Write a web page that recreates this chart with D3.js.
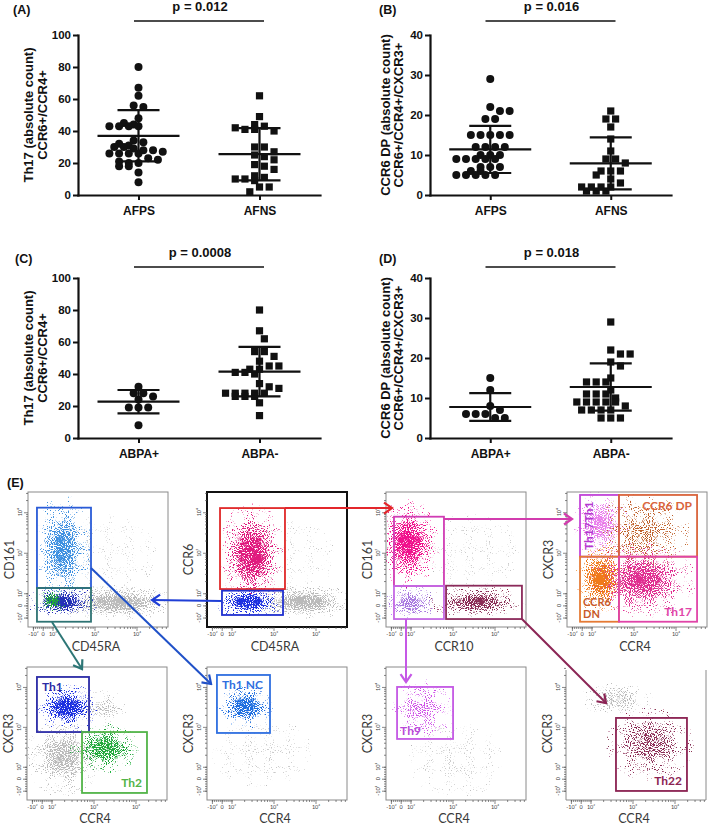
<!DOCTYPE html>
<html>
<head>
<meta charset="utf-8">
<script src="https://cdn.jsdelivr.net/npm/d3@7"></script>
<style>
  body { margin: 0; background: #fff; }
  svg { display: block; }
</style>
</head>
<body>
<svg id="fig" width="709" height="826"></svg>
<script>
// ---------- scatter panels (A-D): values ----------
const groupsAF = ["AFPS", "AFNS"];
const groupsABPA = ["ABPA+", "ABPA-"];

const th17AFPS = [80, 67, 62, 56, 55, 48, 45, 43, 43, 43, 43, 44, 34, 33, 32, 31, 30, 30, 29, 28, 28, 27, 26, 26, 26, 26, 23, 22, 21, 20, 20, 18, 18, 14, 8];
const th17AFNS = [62, 49, 44, 43, 42, 41, 41, 40, 30, 30, 27, 25, 24, 22, 19, 18, 16, 12, 11, 10, 10, 9, 5, 5, 2];
const dpAFPS = [29, 22, 21, 21, 19, 19, 15, 15, 15, 15, 15, 12, 12, 12, 12, 10, 10, 10, 9, 9, 9, 9, 9, 7, 7, 7, 6, 6, 5, 5, 5, 5, 5];
const dpAFNS = [21, 19, 19, 17, 14, 11, 9, 9, 8, 6, 6, 6, 5, 4, 3, 2, 2, 2, 2, 1, 1, 1];
const th17ABPApos = [32, 28, 28, 26, 24, 19, 19, 19, 8];
const th17ABPAneg = [80, 67, 62, 54, 54, 51, 48, 45, 45, 43, 43, 41, 41, 40, 34, 32, 31, 28, 28, 28, 28, 28, 26, 26, 26, 22, 14];
const dpABPApos = [15, 12, 8, 7, 6, 6, 6, 5, 5];
const dpABPAneg = [29, 22, 21, 21, 19, 18, 15, 14, 14, 14, 12, 11, 11, 11, 10, 9, 9, 9, 9, 9, 8, 7, 7, 7, 7, 5, 5, 5];

// mean and SD bars as drawn
const meanTh17AF = [37, 25.5], sdTh17AF = [16, 16.3];
const meanDpAF = [11.4, 7.9], sdDpAF = [5.9, 6.5];
const meanTh17ABPA = [22.7, 41.5], sdTh17ABPA = [7.3, 15.5];
const meanDpABPA = [7.75, 12.75], sdDpABPA = [3.45, 5.9];

const pValues = ["p = 0.012", "p = 0.016", "p = 0.0008", "p = 0.018"];
const ticksTh17 = [0, 20, 40, 60, 80, 100];
const ticksDP = [0, 10, 20, 30, 40];
const titleTh17 = ["Th17 (absolute count)", "CCR6+/CCR4+"];
const titleDP = ["CCR6 DP (absolute count)", "CCR6+/CCR4+/CXCR3+"];

// ---------- flow panel (E): gates and populations in display channels (0-1000) ----------
const flowXLabels = ["CD45RA", "CD45RA", "CCR10", "CCR4", "CCR4", "CCR4", "CCR4", "CCR4"];
const flowYLabels = ["CD161", "CCR6", "CD161", "CXCR3", "CXCR3", "CXCR3", "CXCR3", "CXCR3"];
const decadeLabels = ["-10²", "0", "10²", "10³", "10⁴"];
const xDecadeCh = [35, 105, 175, 475, 775];
const yDecadeCh = [70, 160, 250, 550, 850];

const gateNames = ["CD161+", "CD161-", "CCR6+", "CCR6-", "CD161+CCR10-", "CD161-CCR10-", "CD161-CCR10+",
                   "Th17Th1", "CCR6 DP", "CCR6 DN", "Th17", "Th1", "Th2", "Th1 NC", "Th9", "Th22"];
const gatePlot = [0, 0, 1, 1, 2, 2, 2, 3, 3, 3, 3, 4, 4, 5, 6, 7];
const gateX = [[64, 450], [64, 450], [93, 557], [107, 543], [57, 414], [57, 414], [429, 971],
               [93, 371], [371, 929], [93, 371], [371, 929], [71, 443], [393, 857], [71, 450], [79, 479], [357, 864]];
const gateY = [[289, 884], [39, 289], [281, 881], [89, 269], [304, 817], [59, 304], [59, 306],
               [521, 978], [521, 978], [39, 521], [39, 521], [511, 925], [53, 511], [504, 940], [459, 850], [68, 617]];

const popPlot    = [0, 0, 0, 0, 0,   1, 1, 1, 1,   2, 2, 2, 2,   3, 3, 3, 3,   4, 4, 4, 4,   5, 5,   6, 6,   7, 7];
const popX       = [640, 560, 250, 250, 175,   690, 620, 320, 300,   620, 160, 175, 650,   240, 540, 245, 540,   260, 540, 290, 560,   390, 275,   500, 260,   360, 600];
const popY       = [180, 540, 580, 185, 195,   185, 520, 540, 185,   560, 620, 180, 185,   760, 700, 360, 350,   330, 690, 695, 390,   360, 700,   300, 680,   760, 420];
const popSpreadX = [330, 380, 150, 190, 80,    280, 320, 170, 190,   360, 160, 140, 270,   150, 270, 140, 280,   200, 140, 170, 190,   330, 150,   320, 170,   200, 240];
const popSpreadY = [95, 320, 300, 85, 60,      90, 300, 280, 80,     320, 240, 95, 85,     190, 230, 200, 210,   230, 110, 130, 140,   240, 120,   270, 180,   100, 210];
const popDensity = [0.95, 0.11, 0.85, 1, 1,    1, 0.1, 1, 1,         0.1, 1, 0.8, 0.85,    0.8, 0.5, 1, 0.9,     0.75, 0.45, 1, 0.85,  0.2, 0.95, 0.18, 0.5,  0.55, 0.62];
const popKind    = ["other", "faint", "lightblue", "navy", "green",  "other", "faint", "magenta", "blue",
                    "faint", "hotpink", "lavender", "maroon",  "orchid", "brown", "orange", "pink",
                    "other", "other", "blue", "green",  "faint", "skyblue",  "faint", "violet",  "other", "maroon"];

// arrows: [plot, channel x, channel y] -> [plot, channel x, channel y]
const arrowFrom = [[1, 557, 881], [1, 107, 193], [2, 414, 800], [0, 171, 37], [0, 450, 437], [2, 143, 59], [2, 971, 59]];
const arrowTo   = [[2, 43, 881],  [0, 886, 200], [3, 36, 800],  [4, 393, 985], [5, 29, 872], [6, 143, 887], [7, 286, 729]];
const arrowKind = ["red", "blue", "magenta", "teal", "blue2", "violet", "maroon"];

// gate labels: [gate index, lines, placement]
const gateLabels = [[7, ["Th17Th1"], "v"], [8, ["CCR6 DP"], "tr"], [9, ["CCR6", "DN"], "bl"], [10, ["Th17"], "br"],
                    [11, ["Th1"], "tl"], [12, ["Th2"], "br"], [13, ["Th1 NC"], "tl"], [14, ["Th9"], "bl"], [15, ["Th22"], "br"]];

// ---------- styles ----------
const FONT = "'Liberation Sans', Arial, sans-serif";
const FLOWFONT = "Lato, 'Open Sans', sans-serif";
const popColor = {
  other: "#bababa", faint: "#cdcdcd", lightblue: "#3d8fe0", navy: "#2430b8", green: "#1fa83a", magenta: "#e01a7e",
  blue: "#1c30e0", hotpink: "#f0108c", lavender: "#a878e0", maroon: "#8a2d55", violet: "#d050e8", orchid: "#ea80ec",
  brown: "#c0602a", orange: "#f07a1a", pink: "#e02f90", skyblue: "#1f6fe0"
};
const gateColor = {
  "CD161+": "#2a5bd7", "CD161-": "#2e7373", "CCR6+": "#e02828", "CCR6-": "#2030d0",
  "CD161+CCR10-": "#d03cb4", "CD161-CCR10-": "#c468e4", "CD161-CCR10+": "#8b2a5a",
  "Th17Th1": "#c244d8", "CCR6 DP": "#d9643c", "CCR6 DN": "#e57a34", "Th17": "#e044a8",
  "Th1": "#2b2ba6", "Th2": "#52b448", "Th1 NC": "#2f6fe0", "Th9": "#c458e4", "Th22": "#8b2252"
};
const labelColor = { "Th17Th1": "#b438d0", "CCR6 DN": "#c85a2a", "Th9": "#b848d8" };
const arrowColor = { red: "#e3262b", blue: "#1f3ed6", magenta: "#d23cae", teal: "#2d7676",
                     blue2: "#2051c8", violet: "#c558e6", maroon: "#8b2555" };

const svg = d3.select("#fig");
const defs = svg.append("defs");

// ---------- scatter panels ----------
const panels = [
  { tag: "(A)", tagX: 13, tagY: 14, groups: groupsAF, series: [th17AFPS, th17AFNS], mean: meanTh17AF, sd: sdTh17AF,
    ticks: ticksTh17, title: titleTh17, p: pValues[0], x0: 78, x1: 320, top: 35, bottom: 195, bracketY: 21, titleDx: [-50, -36] },
  { tag: "(B)", tagX: 379, tagY: 14, groups: groupsAF, series: [dpAFPS, dpAFNS], mean: meanDpAF, sd: sdDpAF,
    ticks: ticksDP, title: titleDP, p: pValues[1], x0: 430, x1: 671, top: 35, bottom: 195, bracketY: 21, titleDx: [-45, -32] },
  { tag: "(C)", tagX: 15, tagY: 263, groups: groupsABPA, series: [th17ABPApos, th17ABPAneg], mean: meanTh17ABPA, sd: sdTh17ABPA,
    ticks: ticksTh17, title: titleTh17, p: pValues[2], x0: 78, x1: 320, top: 278, bottom: 438, bracketY: 267, titleDx: [-50, -36] },
  { tag: "(D)", tagX: 379, tagY: 263, groups: groupsABPA, series: [dpABPApos, dpABPAneg], mean: meanDpABPA, sd: sdDpABPA,
    ticks: ticksDP, title: titleDP, p: pValues[3], x0: 430, x1: 671, top: 278, bottom: 438, bracketY: 267, titleDx: [-45, -32] }
];

// GraphPad-like column scatter: rows of equal value are centred, near rows are nudged
function swarm(values, y, cx, step, size) {
  const pts = values.map(v => ({ v: v, py: y(v) })).sort((a, b) => a.py - b.py);
  const rows = [];
  pts.forEach(p => {
    const last = rows[rows.length - 1];
    if (last && Math.abs(p.py - last[0].py) < 2.5) last.push(p); else rows.push([p]);
  });
  const placed = [];
  const shifts = [0, step / 2, -step / 2, step, -step, 1.5 * step, -1.5 * step];
  rows.forEach(row => {
    const n = row.length;
    for (let s = 0; s < shifts.length; s++) {
      const xs = row.map((p, i) => cx + (i - (n - 1) / 2) * step + shifts[s]);
      const ok = xs.every((x, i) => placed.every(q => (q.x - x) ** 2 + (q.py - row[i].py) ** 2 >= size * size));
      if (ok || s === shifts.length - 1) {
        row.forEach((p, i) => { p.x = xs[i]; placed.push(p); });
        break;
      }
    }
  });
  return placed;
}

panels.forEach(P => {
  const y = d3.scaleLinear().domain([0, d3.max(P.ticks)]).range([P.bottom, P.top]);
  const x = d3.scalePoint().domain(P.groups).range([P.x0, P.x1]).padding(0.5);
  const g = svg.append("g");

  const ya = g.append("g").attr("transform", `translate(${P.x0},0)`)
    .call(d3.axisLeft(y).tickValues(P.ticks).tickSize(5).tickSizeOuter(0).tickPadding(2));
  const xa = g.append("g").attr("transform", `translate(0,${P.bottom})`)
    .call(d3.axisBottom(x).tickSize(5).tickSizeOuter(0).tickPadding(6));
  [ya, xa].forEach(a => {
    a.select(".domain").attr("stroke", "#111").attr("stroke-width", 2.2).attr("stroke-linecap", "square");
    a.selectAll(".tick line").attr("stroke", "#111").attr("stroke-width", 2);
    a.selectAll("text").attr("fill", "#111").style("font", `bold 11.5px ${FONT}`);
  });
  xa.selectAll("text").style("font", `bold 12px ${FONT}`);

  // axis title (two rotated lines)
  P.title.forEach((t, i) => {
    g.append("text")
      .attr("transform", `translate(${P.x0 + P.titleDx[i]},${(P.top + P.bottom) / 2}) rotate(-90)`)
      .attr("text-anchor", "middle").attr("dominant-baseline", "central")
      .attr("fill", "#111").style("font", `bold 13px ${FONT}`).text(t);
  });

  // points
  P.series.forEach((vals, gi) => {
    const cx = x(P.groups[gi]);
    const pts = swarm(vals, y, cx, 9.7, 8);
    if (gi === 0) {
      g.selectAll(null).data(pts).enter().append("circle")
        .attr("cx", d => d.x).attr("cy", d => d.py).attr("r", 4).attr("fill", "#111");
    } else {
      g.selectAll(null).data(pts).enter().append("rect")
        .attr("x", d => d.x - 3.6).attr("y", d => d.py - 3.6).attr("width", 7.2).attr("height", 7.2).attr("fill", "#111");
    }
    // mean and SD
    const m = P.mean[gi], s = P.sd[gi];
    const bar = g.append("g").attr("stroke", "#111").attr("stroke-width", 2.2);
    bar.append("line").attr("x1", cx - 41).attr("x2", cx + 41).attr("y1", y(m)).attr("y2", y(m));
    bar.append("line").attr("x1", cx - 21).attr("x2", cx + 21).attr("y1", y(m + s)).attr("y2", y(m + s));
    bar.append("line").attr("x1", cx - 21).attr("x2", cx + 21).attr("y1", y(m - s)).attr("y2", y(m - s));
    bar.append("line").attr("x1", cx).attr("x2", cx).attr("y1", y(m - s)).attr("y2", y(m + s));
  });

  // significance bracket
  const mid = (x(P.groups[0]) + x(P.groups[1])) / 2;
  g.append("line").attr("x1", mid - 65).attr("x2", mid + 65).attr("y1", P.bracketY).attr("y2", P.bracketY)
    .attr("stroke", "#111").attr("stroke-width", 1.6);
  g.append("text").attr("x", mid + 1).attr("y", P.bracketY - 10).attr("text-anchor", "middle")
    .attr("fill", "#111").style("font", `bold 13px ${FONT}`).text(P.p);

  g.append("text").attr("x", P.tagX).attr("y", P.tagY).attr("fill", "#111")
    .style("font", `bold 12.5px ${FONT}`).text(P.tag);
});

svg.append("text").attr("x", 7).attr("y", 487).attr("fill", "#111")
  .style("font", `bold 12.5px ${FONT}`).text("(E)");

// ---------- flow cytometry plots ----------
const flowX0 = [28, 207, 386, 567, 27, 207, 386, 566];
const FW = 140;
const flowTop = i => (i < 4 ? 492 : 667);
const flowH = i => (i < 4 ? 135 : 133);
const fxs = flowX0.map((x0, i) => d3.scaleLinear().domain([0, 1000]).range([x0, x0 + FW]));
const fys = flowX0.map((x0, i) => d3.scaleLinear().domain([0, 1000]).range([flowTop(i) + flowH(i), flowTop(i)]));

function minorTicks(ch) {
  const out = [];
  const lin = (ch[2] - ch[0]) / 10;
  for (let k = 0; k <= 10; k++) out.push(ch[0] + k * lin);
  const gap = ch[3] - ch[2];
  for (let d = 0; d < 3; d++) {
    for (let m = 2; m <= 9; m++) {
      const c = ch[2] + d * gap + Math.log10(m) * gap;
      if (c < 1000) out.push(c);
    }
  }
  return out;
}

flowX0.forEach((x0, i) => {
  const fx = fxs[i], fy = fys[i];
  const top = flowTop(i), h = flowH(i);
  const g = svg.append("g");

  const clip = defs.append("clipPath").attr("id", "clip" + i);
  clip.append("rect").attr("x", x0).attr("y", top).attr("width", FW).attr("height", h);

  // event clouds: a soft density shape turned into speckles by a noise threshold
  const cloud = g.append("g").attr("clip-path", `url(#clip${i})`);
  popPlot.forEach((p, k) => {
    if (p !== i) return;
    const rx = popSpreadX[k] * FW / 1000 * 0.75;
    const ry = popSpreadY[k] * h / 1000 * 0.75;
    const f = defs.append("filter").attr("id", "pop" + k)
      .attr("x", "-100%").attr("y", "-100%").attr("width", "300%").attr("height", "300%")
      .attr("color-interpolation-filters", "sRGB");
    f.append("feGaussianBlur").attr("in", "SourceGraphic")
      .attr("stdDeviation", `${(rx * 0.5).toFixed(2)} ${(ry * 0.5).toFixed(2)}`).attr("result", "b");
    f.append("feComponentTransfer").attr("in", "b").attr("result", "solid")
      .append("feFuncA").attr("type", "discrete").attr("tableValues", "0 1 1 1 1 1 1 1 1 1 1 1 1 1 1 1 1 1 1 1 1 1 1 1 1 1 1 1 1 1 1 1 1 1 1 1 1 1 1 1");
    f.append("feTurbulence").attr("type", "fractalNoise").attr("baseFrequency", "0.95")
      .attr("numOctaves", 1).attr("seed", k * 7 + 3).attr("result", "n");
    f.append("feColorMatrix").attr("in", "n").attr("type", "matrix")
      .attr("values", "0 0 0 0 0  0 0 0 0 0  0 0 0 0 0  1 0 0 0 0").attr("result", "na");
    f.append("feComposite").attr("in", "b").attr("in2", "na").attr("operator", "arithmetic")
      .attr("k1", 0).attr("k2", 5).attr("k3", 12).attr("k4", -8.2).attr("result", "m");
    f.append("feComposite").attr("in", "solid").attr("in2", "m").attr("operator", "in");
    cloud.append("ellipse")
      .attr("cx", fx(popX[k])).attr("cy", fy(popY[k])).attr("rx", rx).attr("ry", ry)
      .attr("fill", popColor[popKind[k]]).attr("fill-opacity", popDensity[k])
      .attr("filter", `url(#pop${k})`);
  });

  // frame
  const frame = g.append("g").attr("fill", "none");
  if (i === 7) {
    frame.append("path").attr("d", `M${x0},${top + 3}V${top + h}H${x0 + FW}V${top + 3}`)
      .attr("stroke", "#8a8a8a").attr("stroke-width", 1);
  } else {
    frame.append("rect").attr("x", x0).attr("y", top).attr("width", FW).attr("height", h)
      .attr("stroke", i === 1 ? "#111" : "#8a8a8a").attr("stroke-width", i === 1 ? 2 : 1);
  }

  // axes with decade ticks
  const bx = g.append("g").attr("transform", `translate(0,${top + h})`);
  bx.call(d3.axisBottom(fx).tickValues(minorTicks(xDecadeCh)).tickSize(2).tickFormat(""));
  bx.call(g2 => g2.select(".domain").remove());
  const bxM = g.append("g").attr("transform", `translate(0,${top + h})`);
  bxM.call(d3.axisBottom(fx).tickValues(xDecadeCh).tickSize(4).tickPadding(1).tickFormat((d, j) => decadeLabels[j]));
  bxM.call(g2 => g2.select(".domain").remove());
  const ly = g.append("g").attr("transform", `translate(${x0},0)`);
  ly.call(d3.axisLeft(fy).tickValues(minorTicks(yDecadeCh)).tickSize(2).tickFormat(""));
  ly.call(g2 => g2.select(".domain").remove());
  const lyM = g.append("g").attr("transform", `translate(${x0},0)`);
  lyM.call(d3.axisLeft(fy).tickValues(yDecadeCh).tickSize(4).tickFormat(""));
  lyM.call(g2 => g2.select(".domain").remove());
  [bx, bxM, ly, lyM].forEach(a => a.selectAll(".tick line").attr("stroke", "#555").attr("stroke-width", 0.7));
  bxM.selectAll("text").attr("fill", "#444").style("font", `5.5px ${FLOWFONT}`);
  yDecadeCh.forEach((c, j) => {
    g.append("text").attr("transform", `translate(${x0 - 6},${fy(c)}) rotate(-90)`)
      .attr("text-anchor", "middle").attr("fill", "#444").style("font", `5.5px ${FLOWFONT}`).text(decadeLabels[j]);
  });

  // axis names
  g.append("text").attr("x", x0 + FW / 2 - 2).attr("y", top + h + (i < 4 ? 24 : 23))
    .attr("text-anchor", "middle").attr("fill", "#3a3a3a").style("font", `12.5px ${FLOWFONT}`).text(flowXLabels[i]);
  g.append("text").attr("transform", `translate(${x0 - 19},${top + h / 2}) rotate(-90)`)
    .attr("text-anchor", "middle").attr("dominant-baseline", "central")
    .attr("fill", "#3a3a3a").style("font", `12.5px ${FLOWFONT}`).text(flowYLabels[i]);
});

// gates
gateNames.forEach((name, k) => {
  const fx = fxs[gatePlot[k]], fy = fys[gatePlot[k]];
  svg.append("rect")
    .attr("x", fx(gateX[k][0])).attr("y", fy(gateY[k][1]))
    .attr("width", fx(gateX[k][1]) - fx(gateX[k][0])).attr("height", fy(gateY[k][0]) - fy(gateY[k][1]))
    .attr("fill", "none").attr("stroke", gateColor[name]).attr("stroke-width", 1.8);
});

// gate labels
gateLabels.forEach(([k, lines, mode]) => {
  const name = gateNames[k];
  const fx = fxs[gatePlot[k]], fy = fys[gatePlot[k]];
  const L = fx(gateX[k][0]), R = fx(gateX[k][1]), T = fy(gateY[k][1]), B = fy(gateY[k][0]);
  const size = lines.length > 1 ? 11 : 12;
  lines.forEach((t, j) => {
    const txt = svg.append("text").attr("fill", labelColor[name] || gateColor[name])
      .style("font", `bold ${size}px ${FLOWFONT}`).text(t);
    if (mode === "tl") txt.attr("x", L + 5).attr("y", T + 14);
    if (mode === "tr") txt.attr("x", R - 5).attr("y", T + 15).attr("text-anchor", "end");
    if (mode === "bl") txt.attr("x", L + 3).attr("y", B - 4 - (lines.length - 1 - j) * 12);
    if (mode === "br") txt.attr("x", R - 5).attr("y", B - 6).attr("text-anchor", "end");
    if (mode === "v") txt.attr("transform", `translate(${L + 8},${(T + B) / 2}) rotate(-90)`)
      .attr("text-anchor", "middle").attr("dominant-baseline", "central");
  });
});

// arrows between plots
Object.keys(arrowColor).forEach(kind => {
  defs.append("marker").attr("id", "head-" + kind)
    .attr("viewBox", "-10 -7 12 14").attr("markerWidth", 12).attr("markerHeight", 14)
    .attr("markerUnits", "userSpaceOnUse").attr("refX", 0).attr("refY", 0).attr("orient", "auto")
    .append("path").attr("d", "M-8,-5.5L0,0L-8,5.5").attr("fill", "none")
    .attr("stroke", arrowColor[kind]).attr("stroke-width", 2.2);
});
arrowFrom.forEach((a, k) => {
  const b = arrowTo[k];
  svg.append("line")
    .attr("x1", fxs[a[0]](a[1])).attr("y1", fys[a[0]](a[2]))
    .attr("x2", fxs[b[0]](b[1])).attr("y2", fys[b[0]](b[2]))
    .attr("stroke", arrowColor[arrowKind[k]]).attr("stroke-width", 2)
    .attr("marker-end", `url(#head-${arrowKind[k]})`);
});
</script>
</body>
</html>
